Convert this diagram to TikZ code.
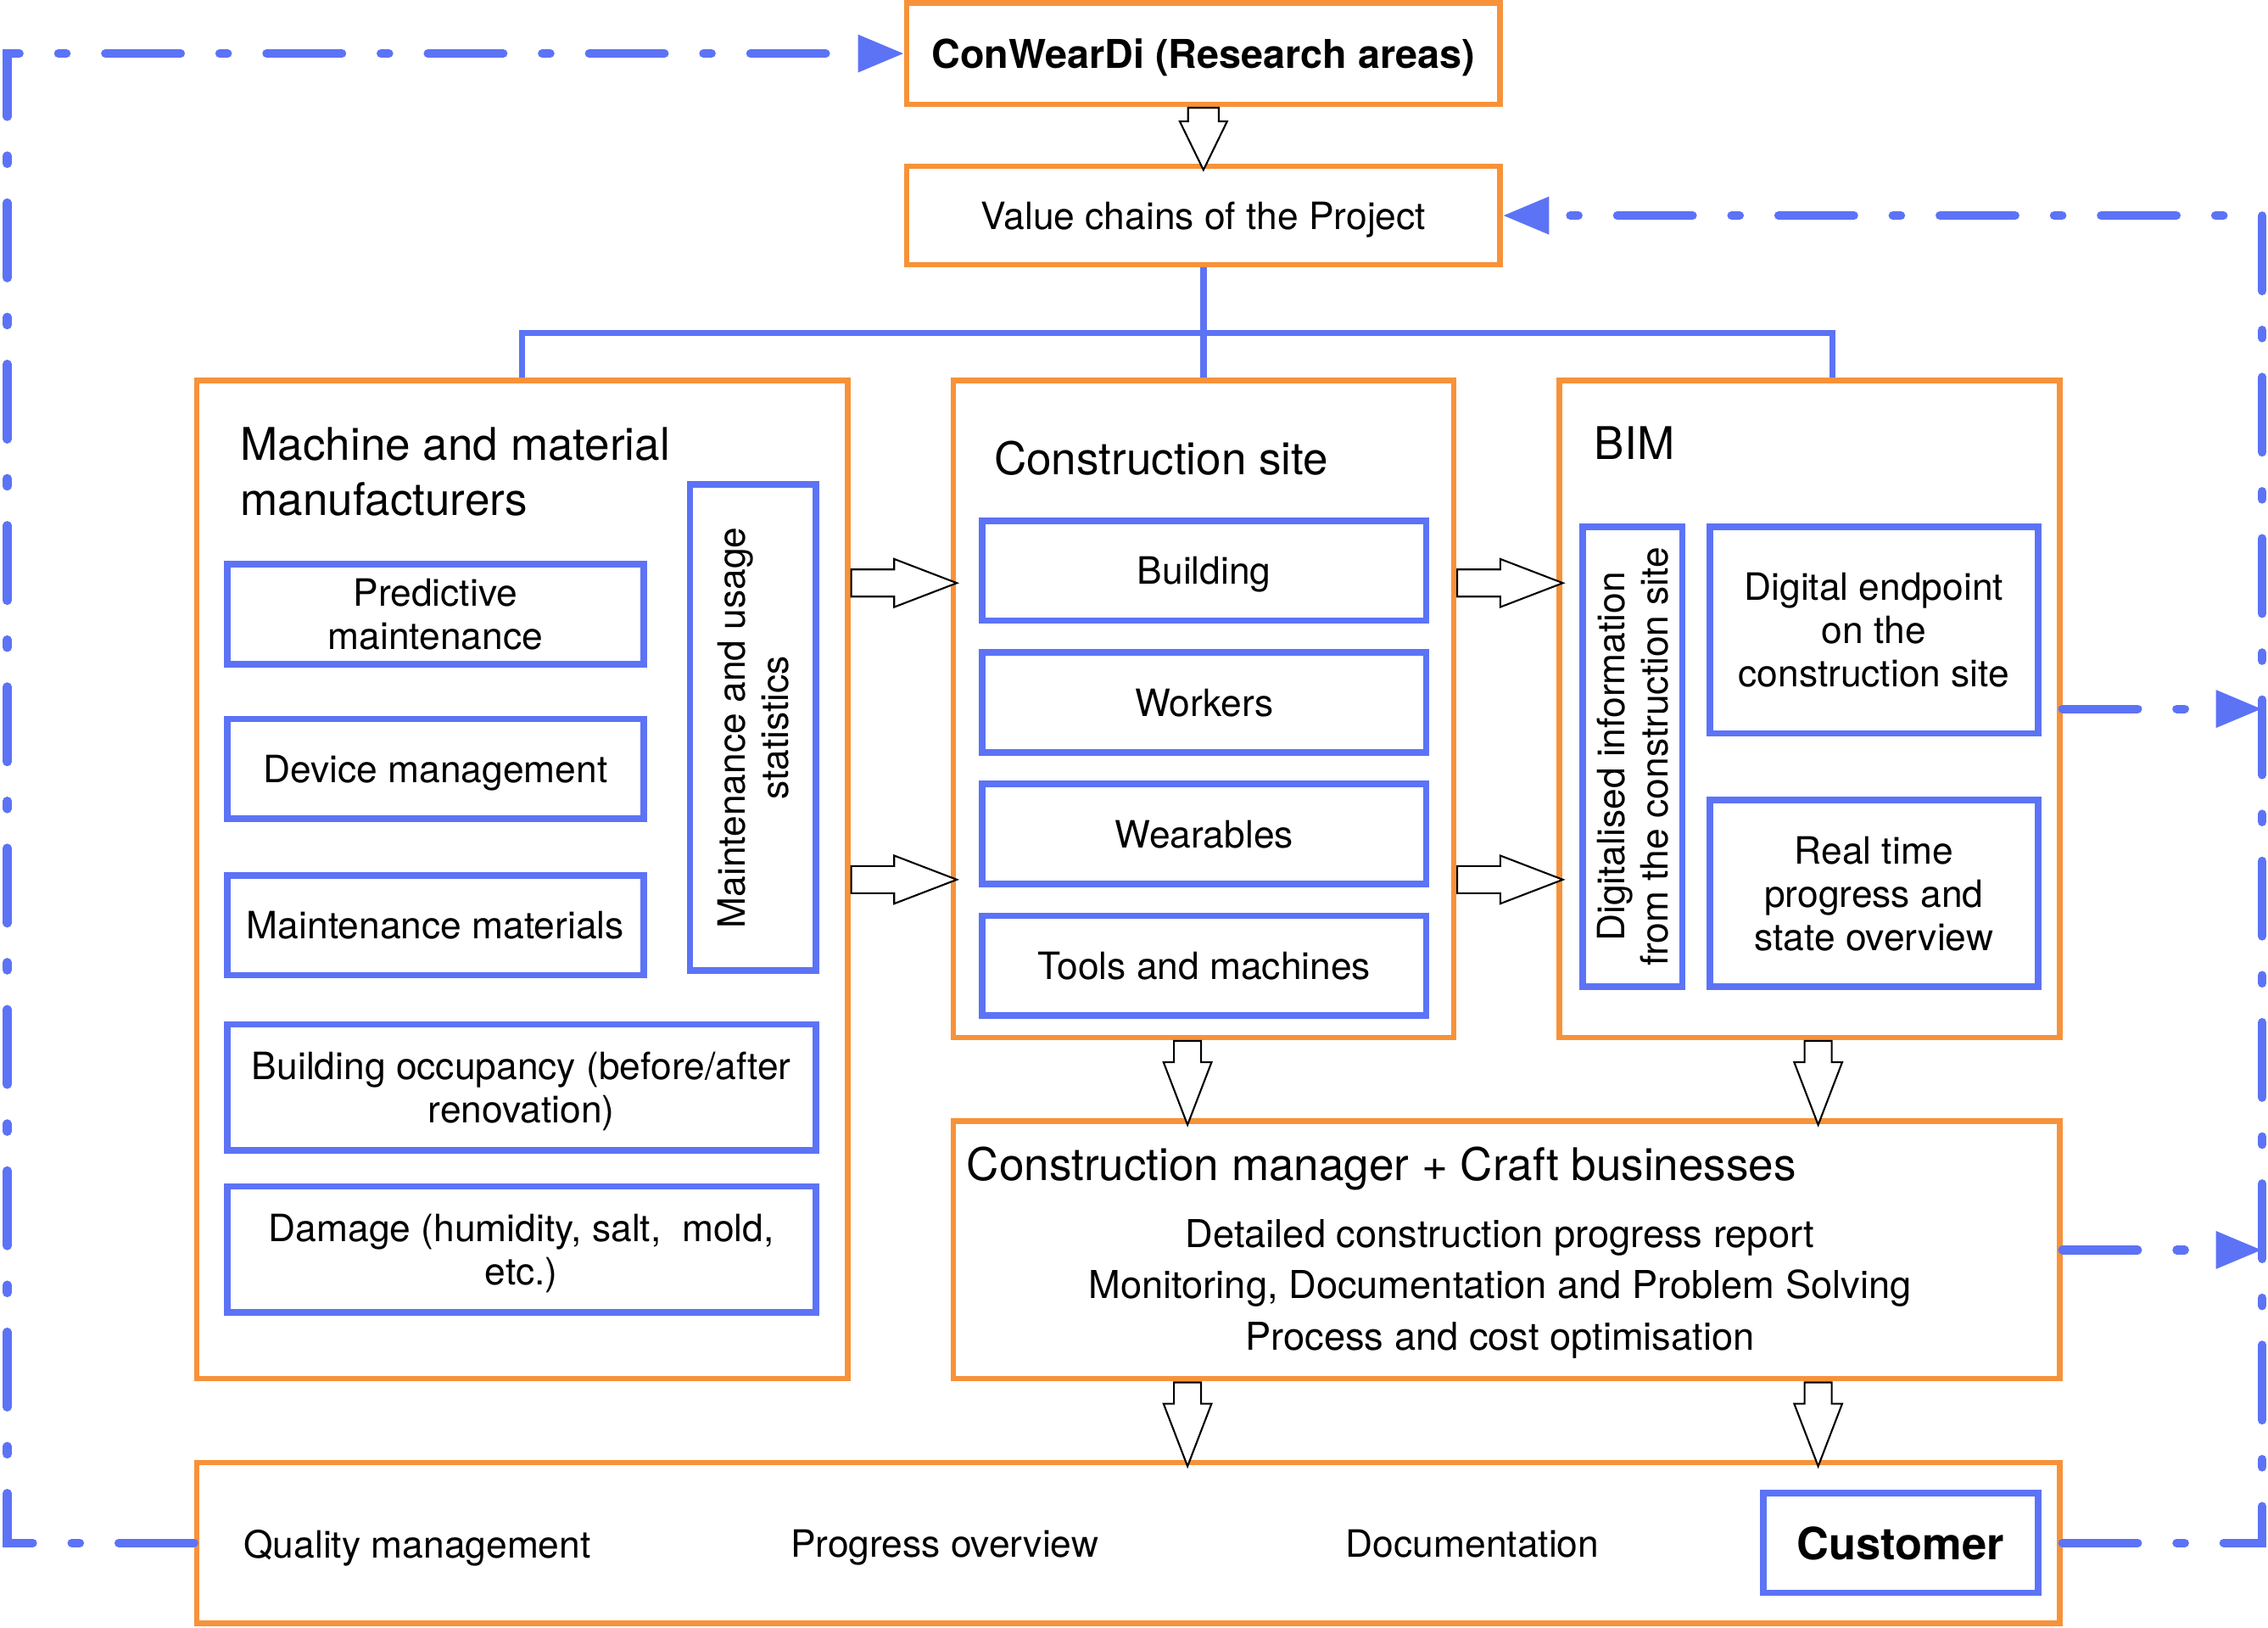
\documentclass[tikz,border=0pt]{standalone}
\usepackage{fontspec}
\setmainfont{TeX Gyre Heros}
\usetikzlibrary{arrows.meta,shapes.arrows,calc}

\definecolor{corange}{HTML}{F7923A}
\definecolor{cblue}{HTML}{5C73F6}

\newcommand{\bodyfont}{\fontsize{14.8}{17}\selectfont}
\newcommand{\headfont}{\fontsize{17.7}{21.5}\selectfont}

\tikzset{
  areabox/.style={draw=corange, line width=0.075cm, inner sep=0pt, text depth=0pt},
  itembox/.style={draw=cblue, line width=0.09cm, inner sep=0pt, align=center, font=\bodyfont, text depth=0pt},
  title/.style={anchor=west, inner sep=0pt, align=left, font=\headfont},
  blocktip/.style={single arrow, draw=black, fill=white, line width=0.7pt, inner sep=0pt, anchor=tail,
                   text height=0.35cm, text depth=0pt, minimum width=0.64cm,
                   single arrow head extend=0.145cm, single arrow tip angle=42},
  tree/.style={draw=cblue, line width=0.085cm},
  feedback/.style={draw=cblue, line width=0.12cm, line cap=round,
                   dash pattern=on 1.04cm off 0.54cm on 0.11cm off 0.54cm},
  fbtip/.style={-{Triangle[length=0.64cm,width=0.49cm]}}
}

\begin{document}
\begin{tikzpicture}
\def\rx{31.28} % x of the right feedback line
\def\lx{0.1}   % x of the left feedback line

\useasboundingbox (0,0) rectangle (31.36,-22.5);

% top of the chain
\node[areabox, minimum width=8.2cm, minimum height=1.4cm,
      font=\bfseries\fontsize{15.6}{18}\selectfont] (cwd) at (16.64,-0.74) {ConWearDi (Research areas)};
\node[areabox, minimum width=8.2cm, minimum height=1.36cm, font=\bodyfont] (vc) at (16.64,-2.98) {Value chains of the Project};

% the big orange frames
\node[areabox, minimum width=9cm, minimum height=13.8cm] (mmm) at (7.22,-12.16) {};
\node[areabox, minimum width=6.92cm, minimum height=9.08cm] (cs) at (16.64,-9.8) {};
\node[areabox, minimum width=6.92cm, minimum height=9.08cm] (bim) at (25.02,-9.8) {};
\node[areabox, minimum width=15.3cm, minimum height=3.56cm] (cm) at (20.83,-17.28) {};
\node[areabox, minimum width=25.76cm, minimum height=2.22cm] (bot) at (15.6,-21.33) {};

% titles
\node[title] (mmmtitle) at (3.32,-6.52) {Machine and material\\manufacturers};
\node[title] (cstitle) at (13.74,-6.34) {Construction site};
\node[title] (bimtitle) at (22.04,-6.12) {BIM};
\node[title] (cmtitle) at (13.36,-16.16) {Construction manager + Craft businesses};

% manufacturers
\node[itembox, minimum width=5.76cm, minimum height=1.38cm] (pm) at (6.02,-8.49) {Predictive\\maintenance};
\node[itembox, minimum width=5.76cm, minimum height=1.38cm] (dm) at (6.02,-10.63) {Device management};
\node[itembox, minimum width=5.76cm, minimum height=1.38cm] (mmat) at (6.02,-12.79) {Maintenance materials};
\node[itembox, rotate=90, minimum width=6.72cm, minimum height=1.74cm] (mus) at (10.41,-10.06) {Maintenance and usage\\statistics};
\node[itembox, minimum width=8.14cm, minimum height=1.74cm] (bo) at (7.21,-15.03) {Building occupancy (before/after\\renovation)};
\node[itembox, minimum width=8.14cm, minimum height=1.74cm] (dmg) at (7.21,-17.27) {Damage (humidity, salt,~ mold,\\etc.)};

% construction site
\foreach \nm/\txt [count=\i] in {bld/Building, wrk/Workers, wea/Wearables, tls/Tools and machines}
  \node[itembox, minimum width=6.14cm, minimum height=1.38cm] (\nm) at (16.65,{-7.89-1.82*(\i-1)}) {\txt};

% BIM
\node[itembox, rotate=90, minimum width=6.36cm, minimum height=1.38cm] (dig) at (22.57,-10.46) {Digitalised information\\from the construction site};
\node[itembox, minimum width=4.54cm, minimum height=2.86cm] (dep) at (25.91,-8.71) {Digital endpoint\\on the\\construction site};
\node[itembox, minimum width=4.54cm, minimum height=2.58cm] (rt) at (25.91,-12.35) {Real time\\progress and\\state overview};

% construction manager
\node[align=center, inner sep=0pt, text depth=0pt, font=\fontsize{15.1}{20.2}\selectfont] (cmtext) at (20.74,-17.76)
  {Detailed construction progress report\\Monitoring, Documentation and Problem Solving\\Process and cost optimisation};

% customer row
\node[font=\bodyfont, text depth=0pt] (qm) at (5.77,-21.34) {Quality management};
\node[font=\bodyfont, text depth=0pt] (po) at (13.06,-21.34) {Progress overview};
\node[font=\bodyfont, text depth=0pt] (doc) at (20.36,-21.34) {Documentation};
\node[itembox, minimum width=3.8cm, minimum height=1.38cm,
      font=\bfseries\fontsize{17.5}{20}\selectfont] (cust) at (26.28,-21.33) {Customer};

% blue tree
\coordinate (fork) at (16.64,-4.6);
\coordinate (bimdrop) at ($(bim.north)+(0.32,0)$);
\draw[tree] (vc.south) -- (cs.north);
\draw[tree] (mmm.north) |- (fork) -| (bimdrop);

% hollow arrows, tail sits on the box they leave
\node[blocktip, rotate=-90, minimum height=0.86cm, minimum width=0.63cm, text height=0.4cm,
      single arrow head extend=0.115cm, single arrow tip angle=52] (a0) at (cwd.south) {};
\foreach \y [count=\i] in {-8.06,-12.16} {
  \node[blocktip, minimum height=1.46cm] (ra\i) at (mmm.east |- 0,\y) {};
  \node[blocktip, minimum height=1.46cm] (rb\i) at (cs.east |- 0,\y) {};
}
\foreach \x [count=\i] in {16.42,25.14} {
  \node[blocktip, rotate=-90, minimum height=1.16cm] (da\i) at (\x,0 |- cs.south) {};
  \node[blocktip, rotate=-90, minimum height=1.16cm] (db\i) at (\x,0 |- cm.south) {};
}

% feedback loops
\draw[feedback, fbtip] (bot.west) -| (\lx,0 |- cwd.west) -- (cwd.west);
\draw[feedback, fbtip] (bot.east) -| (\rx,0 |- vc.east) -- (vc.east);
\draw[feedback, fbtip] (bim.east) -- (\rx,0 |- bim.east);
\draw[feedback, fbtip] (cm.east) -- (\rx,0 |- cm.east);

\end{tikzpicture}
\end{document}
